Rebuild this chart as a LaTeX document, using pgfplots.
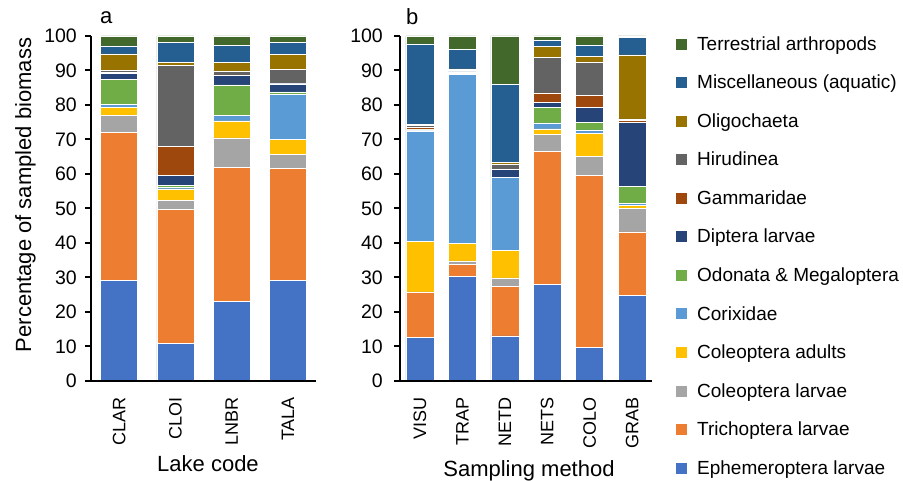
\documentclass[border=0pt]{standalone}
\usepackage{fontspec}
\setmainfont{Liberation Sans}
\usepackage{pgfplots}
\pgfplotsset{compat=1.18}
\usepackage{pgfplotstable}
\newcommand\F{\fontsize{19bp}{22bp}\selectfont}
\newcommand\FT{\fontsize{19.5bp}{22bp}\selectfont}
\newcommand\FX{\fontsize{18bp}{22bp}\selectfont}
\newcommand\FL{\fontsize{22bp}{26bp}\selectfont}
\definecolor{cEph}{HTML}{4472C4}
\definecolor{cTri}{HTML}{ED7D31}
\definecolor{cColL}{HTML}{A5A5A5}
\definecolor{cColA}{HTML}{FFC000}
\definecolor{cCorix}{HTML}{5B9BD5}
\definecolor{cOdon}{HTML}{70AD47}
\definecolor{cDipt}{HTML}{264478}
\definecolor{cGamm}{HTML}{9E480E}
\definecolor{cHirud}{HTML}{636363}
\definecolor{cOligo}{HTML}{997300}
\definecolor{cMisc}{HTML}{255E91}
\definecolor{cTerr}{HTML}{43682B}
\pgfplotstableread{
x Eph Tri ColL ColA Corix Odon Dipt Gamm Hirud Oligo Misc Terr
0 29.1 43.0 5.0 2.2 0.9 7.3 1.7 0.2 0.7 4.7 2.3 2.9
1 10.9 38.9 2.5 3.4 0.4 0.6 2.9 8.4 23.4 0.9 5.8 1.9
2 23.0 38.9 8.6 4.9 1.6 8.8 2.7 0.2 1.2 2.5 4.8 2.8
3 29.1 32.5 4.1 4.4 13.0 0.7 2.3 0.1 4.1 4.4 3.4 1.9
}\tabA
\pgfplotstableread{
x Eph Tri ColL ColA Corix Odon Dipt Gamm Hirud Oligo Misc Terr
0 12.6 13.1 0.1 14.7 32.0 0.3 0.2 0.5 0.6 0.3 23.3 2.3
1 30.4 3.4 1.0 5.1 48.9 0.4 0.4 0.2 0.2 0.5 5.6 3.9
2 13.1 14.4 2.4 8.0 21.1 0.1 2.2 0.1 1.4 0.5 22.6 14.1
3 28.1 38.4 4.9 1.7 1.7 4.5 1.5 2.7 10.2 3.2 1.8 1.3
4 9.7 50.0 5.3 6.7 1.1 2.2 4.3 3.5 9.7 1.7 3.2 2.6
5 24.9 18.3 6.9 0.9 0.5 5.0 18.5 0.5 0.5 18.5 5.0 0.5
}\tabB
\pgfplotsset{common/.style={
  scale only axis, ybar stacked, ymin=0, ymax=100, ytick={0,10,...,100},
  axis on top,
  axis lines*=left, axis line style={line width=2bp},
  tick align=outside, major tick length=6bp,
  ytick style={line width=2bp, black}, xtick style={draw=none},
  /pgf/number format/assume math mode=true,
  xticklabel style={font=\FX, yshift=-10bp, rotate=90, anchor=east, inner sep=0pt},
  yticklabel style={font=\FT, anchor=east, inner sep=0pt},
  every axis plot/.append style={draw=white, line width=0.5bp},
  clip=false},
  series/.style={fill=#1}}
\newcommand\bars[1]{%
  \addplot[series=cEph] table[x=x,y=Eph]{#1};
  \addplot[series=cTri] table[x=x,y=Tri]{#1};
  \addplot[series=cColL] table[x=x,y=ColL]{#1};
  \addplot[series=cColA] table[x=x,y=ColA]{#1};
  \addplot[series=cCorix] table[x=x,y=Corix]{#1};
  \addplot[series=cOdon] table[x=x,y=Odon]{#1};
  \addplot[series=cDipt] table[x=x,y=Dipt]{#1};
  \addplot[series=cGamm] table[x=x,y=Gamm]{#1};
  \addplot[series=cHirud] table[x=x,y=Hirud]{#1};
  \addplot[series=cOligo] table[x=x,y=Oligo]{#1};
  \addplot[series=cMisc] table[x=x,y=Misc]{#1};
  \addplot[series=cTerr] table[x=x,y=Terr]{#1};
}
\begin{document}
\begin{tikzpicture}
\useasboundingbox (0,0) rectangle (903bp,481bp);
\begin{axis}[common, at={(91bp,100bp)}, anchor=south west,
  width=225bp, height=345bp, bar width=37bp,
  xmin=-0.5, xmax=3.5, xtick={0,1,2,3}, xticklabels={CLAR,CLOI,LNBR,TALA},
  yticklabel style={xshift=-8bp}]
\bars{\tabA}
\end{axis}
\begin{axis}[common, at={(400bp,100bp)}, anchor=south west,
  width=251.7bp, height=345bp, bar width=28bp,
  xmin=-0.47, xmax=5.46, xtick={0,1,2,3,4,5},
  xticklabels={VISU,TRAP,NETD,NETS,COLO,GRAB},
  yticklabel style={xshift=-11bp},
  reverse legend, legend cell align=left,
  legend image code/.code={\path[#1, draw=none] (0bp,-5.5bp) rectangle (11bp,5.5bp);},
  legend style={at={(axis description cs:1.0965,0.9994)}, anchor=north west,
    draw=none, fill=none, inner sep=0pt, row sep=23.3bp, column sep=10bp,
    font=\F, nodes={inner sep=0pt},
    column 2/.style={nodes={text height=14.5bp, text depth=1bp, inner sep=0pt}}}]
\bars{\tabB}
\legend{Ephemeroptera larvae, Trichoptera larvae, Coleoptera larvae, Coleoptera adults, Corixidae, Odonata \& Megaloptera, Diptera larvae, Gammaridae, Hirudinea, Oligochaeta, Miscellaneous (aquatic), Terrestrial arthropods}
\end{axis}
\node[font=\FL, anchor=base west, inner sep=0pt] at (100bp,457bp) {a};
\node[font=\FL, anchor=base west, inner sep=0pt] at (406bp,456bp) {b};
\node[font=\FL, anchor=base, inner sep=0pt, rotate=90] at (31bp,286bp) {Percentage of sampled biomass};
\node[font=\FL, anchor=base, inner sep=0pt] at (208bp,9.3bp) {Lake code};
\node[font=\FL, anchor=base, inner sep=0pt] at (529bp,5bp) {Sampling method};
\end{tikzpicture}
\end{document}
